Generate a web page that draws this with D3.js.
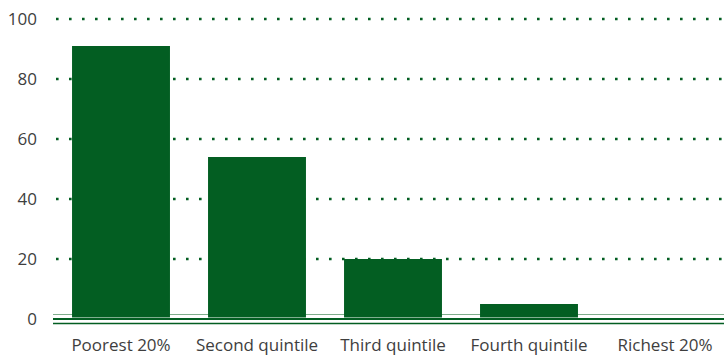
<!DOCTYPE html>
<html>
<head>
<meta charset="utf-8">
<script src="https://cdn.jsdelivr.net/npm/d3@7"></script>
<style>
  html, body { margin: 0; padding: 0; background: #fff; }
  svg { display: block; }
  text { font-family: "Open Sans", "Noto Sans", sans-serif; }
</style>
</head>
<body>
<svg id="chart" width="724" height="355"></svg>
<script>
// Share by wealth quintile
const categories = ["Poorest 20%", "Second quintile", "Third quintile", "Fourth quintile", "Richest 20%"];
const values = [91, 54, 20, 5, 0];
const yTicks = [0, 20, 40, 60, 80, 100];

const W = 724, H = 355;
const green = "#035e22";
const svg = d3.select("#chart");

const x = d3.scaleBand()
  .domain(categories)
  .range([53, 733])
  .paddingInner(0.28)
  .paddingOuter(0.14);

const y = d3.scaleLinear().domain([0, 100]).range([319, 19]);

// dotted gridlines (above zero)
svg.append("g")
  .selectAll("line")
  .data(yTicks.filter(d => d > 0))
  .join("line")
  .attr("x1", 56).attr("x2", W)
  .attr("y1", d => y(d)).attr("y2", d => y(d))
  .attr("stroke", green)
  .attr("stroke-width", 2.6)
  .attr("stroke-dasharray", "2.6 10.4");

// light rule just above the baseline
svg.append("line")
  .attr("x1", 53).attr("x2", W)
  .attr("y1", y(0) - 4.5).attr("y2", y(0) - 4.5)
  .attr("stroke", "#7fae8c").attr("stroke-width", 1.2);

// bars
svg.append("g")
  .selectAll("rect")
  .data(values)
  .join("rect")
  .attr("x", (d, i) => x(categories[i]))
  .attr("width", x.bandwidth())
  .attr("y", d => y(d))
  .attr("height", d => Math.max(0, y(0) - 1.5 - y(d)))
  .attr("fill", green);

// double baseline
svg.append("line")
  .attr("x1", 53).attr("x2", W)
  .attr("y1", y(0)).attr("y2", y(0))
  .attr("stroke", green).attr("stroke-width", 2);
svg.append("line")
  .attr("x1", 53).attr("x2", W)
  .attr("y1", y(0) + 4.5).attr("y2", y(0) + 4.5)
  .attr("stroke", green).attr("stroke-width", 1.3);

// y tick labels
svg.append("g")
  .selectAll("text")
  .data(yTicks)
  .join("text")
  .attr("x", 37)
  .attr("y", d => y(d))
  .attr("dy", "0.36em")
  .attr("text-anchor", "end")
  .attr("font-size", 17)
  .attr("fill", "#3e3e3e")
  .text(d => d);

// category labels
svg.append("g")
  .selectAll("text")
  .data(categories)
  .join("text")
  .attr("x", d => x(d) + x.bandwidth() / 2)
  .attr("y", 351)
  .attr("text-anchor", "middle")
  .attr("font-size", 17)
  .attr("fill", "#3e3e3e")
  .text(d => d);
</script>
</body>
</html>
